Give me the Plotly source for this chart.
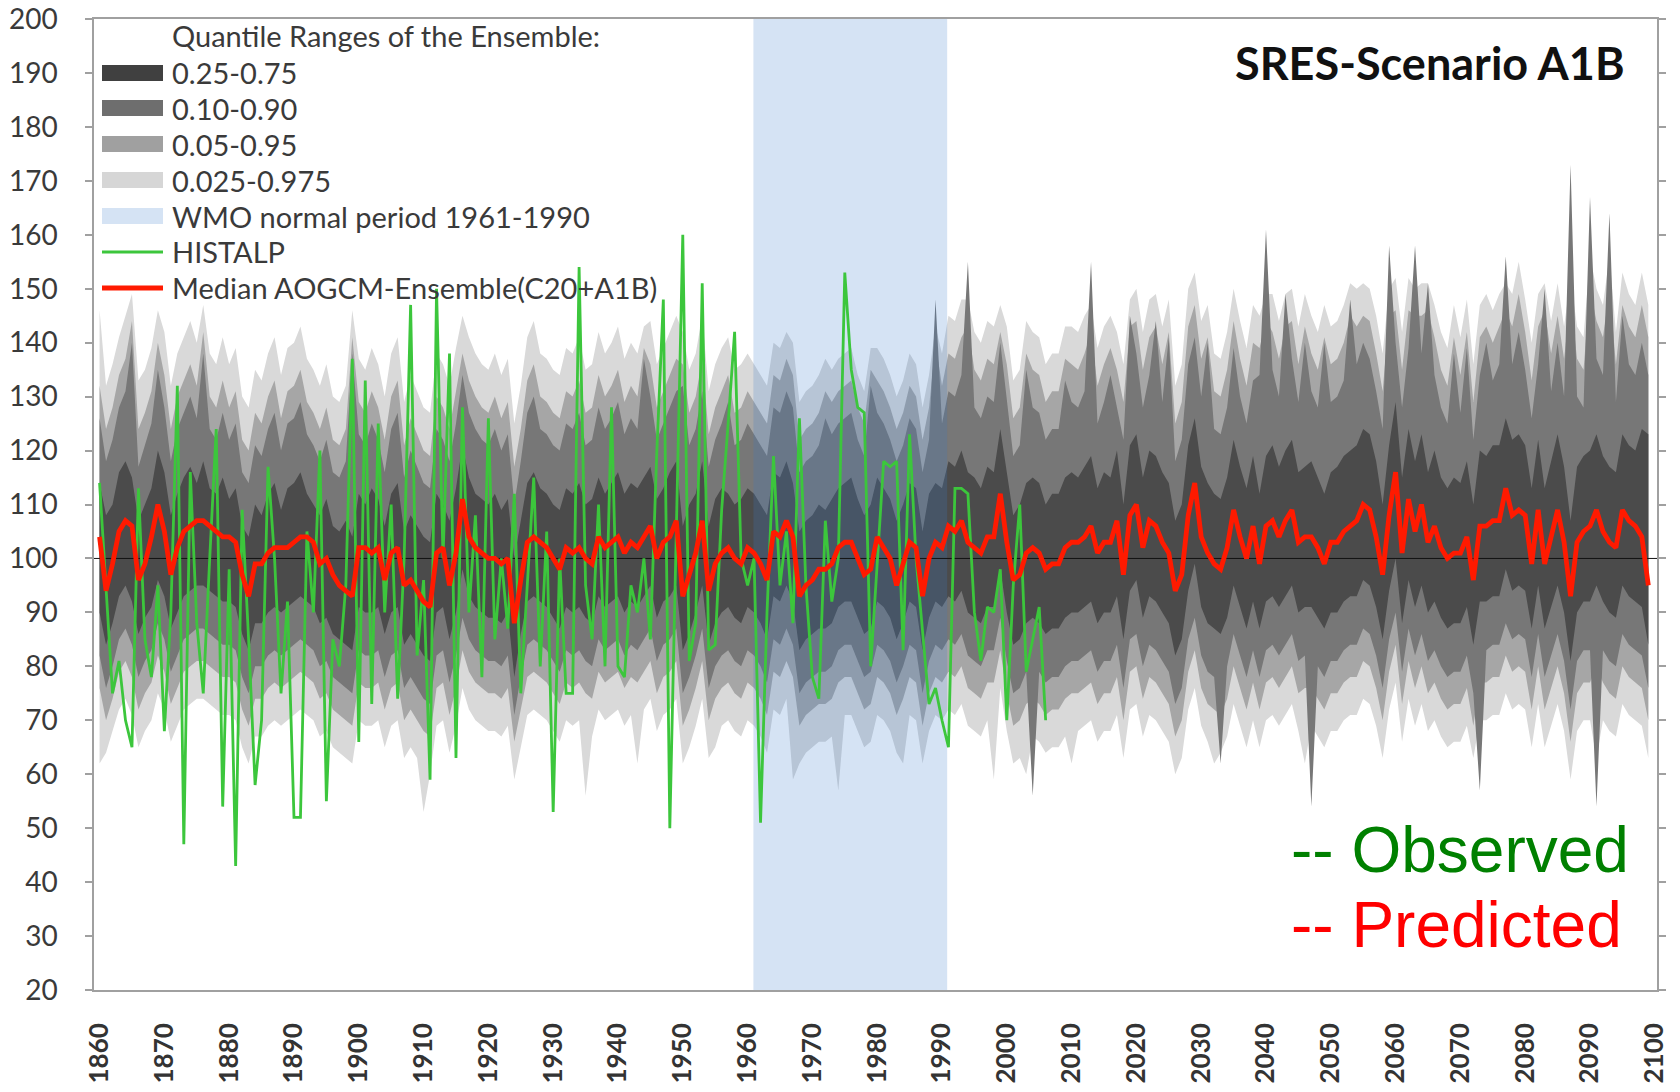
import plotly.graph_objects as go

# ---------------- data ----------------
YEARS = list(range(1860, 2100))          # model years 1860..2099
HIST_YEARS = list(range(1860, 2007))     # HISTALP 1860..2006

MEDIAN = [
    104, 94, 99, 105, 107, 106, 96, 99, 104, 110,
    105, 97, 102, 105, 106, 107, 107, 106, 105, 104,
    104, 103, 97, 93, 99, 99, 101, 102, 102, 102,
    103, 104, 104, 103, 99, 100, 97, 95, 94, 93,
    102, 102, 101, 102, 96, 101, 102, 95, 96, 94,
    92, 91, 101, 102, 95, 101, 111, 104, 102, 101,
    100, 100, 99, 100, 88, 96, 103, 104, 103, 102,
    100, 98, 102, 101, 102, 100, 99, 104, 102, 103,
    104, 101, 103, 102, 104, 106, 100, 103, 104, 107,
    93, 97, 101, 107, 94, 99, 101, 102, 100, 99,
    102, 101, 99, 96, 105, 104, 107, 104, 93, 95,
    96, 98, 98, 99, 102, 103, 103, 100, 97, 98,
    104, 102, 100, 95, 99, 103, 102, 93, 100, 103,
    102, 106, 105, 107, 103, 102, 101, 104, 104, 112,
    103, 96, 97, 101, 102, 101, 98, 99, 99, 102,
    103, 103, 104, 106, 101, 103, 103, 107, 97, 108,
    110, 102, 107, 106, 103, 101, 94, 97, 108, 114,
    104, 101, 99, 98, 102, 109, 104, 100, 106, 99,
    106, 107, 104, 107, 109, 103, 104, 104, 102, 99,
    103, 103, 105, 106, 107, 110, 109, 104, 97, 108,
    116, 101, 111, 105, 110, 103, 106, 102, 100, 101,
    101, 104, 96, 106, 106, 107, 107, 113, 108, 109,
    108, 99, 109, 99, 104, 109, 103, 93, 103, 105,
    106, 109, 105, 103, 102, 109, 107, 106, 104, 95,
]

Q750 = [
    114, 108, 110, 116, 118, 115, 107, 110, 113, 120,
    116, 108, 112, 115, 117, 114, 118, 113, 112, 115,
    111, 113, 106, 104, 110, 108, 112, 114, 109, 113,
    114, 116, 112, 110, 108, 111, 106, 105, 107, 104,
    112, 110, 113, 111, 106, 112, 114, 105, 108, 106,
    104, 103, 112, 110, 107, 113, 121, 115, 112, 111,
    110, 112, 109, 111, 100, 107, 114, 116, 113, 112,
    110, 109, 113, 112, 114, 110, 111, 115, 112, 114,
    116, 112, 114, 113, 115, 117, 111, 113, 116, 118,
    106, 110, 112, 118, 106, 111, 113, 112, 110, 111,
    113, 112, 110, 108, 116, 115, 118, 114, 105, 107,
    108, 110, 109, 111, 113, 114, 115, 111, 108, 110,
    115, 113, 111, 107, 110, 114, 113, 105, 112, 114,
    113, 118, 117, 120, 116, 115, 113, 117, 116, 124,
    116, 108, 110, 114, 115, 114, 110, 112, 112, 115,
    116, 115, 117, 119, 113, 116, 115, 120, 110, 121,
    123, 115, 120, 119, 116, 114, 107, 110, 121, 126,
    117, 114, 112, 111, 115, 122, 117, 113, 119, 112,
    119, 121, 117, 120, 122, 116, 117, 118, 115, 112,
    116, 117, 119, 120, 121, 124, 123, 118, 110, 121,
    129, 115, 124, 118, 123, 116, 120, 115, 113, 115,
    114, 118, 110, 120, 119, 121, 121, 126, 122, 123,
    121, 113, 122, 113, 118, 123, 117, 107, 117, 119,
    120, 123, 119, 117, 116, 123, 121, 120, 124, 123,
]

Q250 = [
    90, 84, 88, 93, 95, 92, 86, 89, 91, 96,
    93, 87, 90, 93, 94, 95, 95, 94, 93, 92,
    92, 91, 86, 83, 88, 88, 90, 91, 90, 91,
    92, 93, 92, 91, 88, 89, 86, 85, 84, 83,
    91, 90, 90, 91, 86, 90, 91, 84, 86, 84,
    82, 81, 90, 91, 85, 90, 98, 93, 91, 90,
    89, 89, 88, 90, 78, 86, 92, 93, 92, 91,
    89, 87, 91, 90, 91, 89, 88, 93, 91, 92,
    93, 90, 92, 91, 93, 95, 89, 92, 93, 95,
    83, 86, 90, 95, 84, 88, 90, 91, 89, 88,
    91, 90, 88, 85, 93, 92, 95, 92, 83, 85,
    86, 87, 87, 88, 91, 92, 92, 89, 86, 87,
    92, 91, 89, 85, 88, 92, 91, 83, 89, 92,
    91, 93, 92, 94, 90, 89, 88, 91, 91, 98,
    90, 84, 85, 88, 89, 88, 86, 87, 87, 89,
    90, 90, 91, 92, 88, 90, 90, 93, 85, 94,
    96, 89, 93, 92, 90, 88, 82, 85, 94, 99,
    91, 88, 87, 86, 89, 95, 91, 87, 92, 87,
    92, 93, 91, 93, 95, 90, 91, 91, 89, 87,
    90, 90, 92, 93, 93, 96, 95, 91, 85, 94,
    100, 88, 96, 91, 95, 90, 92, 89, 87, 88,
    88, 91, 84, 92, 92, 93, 93, 98, 94, 95,
    94, 87, 95, 87, 91, 95, 90, 81, 90, 92,
    92, 95, 92, 90, 89, 95, 93, 92, 91, 84,
]

Q900 = [
    126, 118, 122, 128, 131, 140, 117, 121, 125, 135,
    128, 118, 124, 127, 130, 126, 138, 124, 122, 127,
    122, 125, 116, 114, 121, 119, 124, 127, 120, 125,
    126, 129, 123, 121, 118, 122, 116, 115, 118, 138,
    123, 121, 125, 122, 116, 124, 127, 115, 120, 117,
    114, 113, 124, 122, 118, 125, 134, 127, 124, 122,
    121, 124, 120, 123, 110, 118, 127, 130, 124, 123,
    121, 120, 125, 124, 127, 121, 122, 128, 124, 126,
    129, 123, 126, 124, 137, 130, 122, 125, 128, 131,
    132, 121, 124, 131, 117, 122, 125, 129, 121, 122,
    125, 123, 121, 119, 128, 127, 131, 128, 116, 118,
    119, 121, 126, 123, 125, 126, 127, 122, 119, 132,
    127, 125, 122, 118, 121, 126, 124, 116, 122, 148,
    125, 131, 130, 134, 155, 128, 126, 130, 129, 140,
    129, 119, 121, 135, 128, 127, 122, 124, 124, 133,
    129, 128, 131, 155, 125, 129, 134, 128, 122, 145,
    138, 128, 134, 144, 129, 141, 118, 122, 136, 141,
    130, 140, 124, 123, 128, 139, 130, 125, 133, 134,
    161, 135, 130, 149, 137, 129, 140, 131, 128, 140,
    129, 130, 133, 148, 136, 140, 137, 131, 124, 158,
    140, 128, 139, 158, 138, 151, 134, 128, 125, 138,
    127, 139, 122, 134, 140, 133, 136, 156, 136, 142,
    135, 126, 136, 150, 131, 140, 130, 173, 130, 128,
    167, 137, 134, 164, 129, 145, 136, 134, 140, 134,
]

Q100 = [
    82, 76, 80, 85, 87, 84, 78, 81, 83, 88,
    85, 79, 82, 85, 86, 87, 87, 86, 85, 84,
    84, 83, 78, 75, 80, 80, 82, 83, 82, 83,
    84, 85, 84, 83, 80, 81, 78, 77, 76, 75,
    83, 82, 82, 83, 78, 82, 83, 76, 78, 76,
    74, 73, 82, 83, 77, 82, 89, 85, 83, 82,
    81, 81, 80, 82, 71, 78, 84, 85, 84, 83,
    81, 79, 83, 82, 83, 81, 80, 85, 83, 84,
    85, 82, 84, 83, 85, 87, 81, 84, 85, 87,
    75, 78, 82, 87, 76, 80, 82, 83, 81, 80,
    83, 82, 80, 77, 85, 84, 87, 84, 75, 77,
    78, 79, 79, 80, 83, 84, 84, 81, 78, 79,
    84, 83, 81, 77, 80, 84, 83, 75, 81, 84,
    83, 85, 84, 86, 82, 81, 80, 83, 83, 89,
    81, 75, 76, 79, 56, 79, 77, 78, 78, 80,
    81, 81, 82, 83, 79, 81, 81, 84, 76, 85,
    86, 80, 84, 83, 81, 79, 73, 76, 85, 89,
    82, 79, 78, 62, 80, 86, 82, 78, 83, 78,
    83, 84, 82, 84, 86, 81, 82, 54, 80, 78,
    81, 81, 83, 84, 84, 87, 86, 82, 76, 85,
    90, 79, 87, 82, 86, 81, 83, 80, 78, 79,
    79, 82, 75, 57, 83, 84, 84, 88, 85, 86,
    85, 78, 86, 78, 82, 86, 81, 72, 81, 83,
    83, 54, 83, 81, 80, 86, 84, 83, 82, 76,
]

Q950 = [
    132, 124, 128, 134, 137, 144, 124, 127, 131, 140,
    134, 124, 130, 133, 136, 132, 142, 130, 128, 133,
    128, 131, 122, 120, 127, 125, 130, 133, 126, 131,
    132, 135, 129, 127, 124, 128, 122, 121, 124, 141,
    129, 127, 131, 128, 122, 130, 133, 121, 126, 123,
    120, 119, 130, 128, 124, 131, 138, 133, 130, 128,
    127, 130, 126, 129, 117, 124, 133, 136, 130, 129,
    127, 126, 131, 130, 133, 127, 128, 134, 130, 132,
    135, 129, 132, 130, 139, 136, 128, 131, 134, 137,
    136, 127, 130, 137, 123, 128, 131, 134, 127, 128,
    131, 129, 127, 125, 134, 133, 137, 134, 122, 124,
    125, 127, 131, 129, 131, 132, 133, 128, 125, 135,
    133, 131, 128, 124, 127, 132, 130, 122, 128, 140,
    132, 138, 137, 141, 143, 135, 133, 137, 136, 142,
    136, 126, 128, 138, 135, 134, 129, 131, 131, 137,
    136, 135, 138, 142, 132, 136, 139, 135, 129, 143,
    144, 135, 141, 143, 136, 142, 125, 129, 143, 147,
    137, 141, 131, 130, 135, 144, 137, 132, 140, 139,
    144, 142, 137, 143, 144, 136, 143, 138, 135, 141,
    136, 137, 140, 145, 143, 145, 144, 138, 131, 145,
    146, 135, 146, 145, 145, 146, 141, 135, 132, 141,
    134, 142, 129, 141, 143, 140, 143, 146, 143, 149,
    142, 133, 143, 146, 138, 145, 137, 148, 137, 135,
    150, 144, 141, 150, 136, 147, 143, 141, 147, 141,
]

Q050 = [
    76, 70, 74, 79, 81, 78, 72, 75, 77, 82,
    79, 73, 76, 79, 80, 81, 81, 80, 79, 78,
    78, 77, 72, 69, 74, 74, 76, 77, 76, 77,
    78, 79, 78, 77, 74, 75, 72, 71, 70, 69,
    77, 76, 76, 77, 72, 76, 77, 70, 72, 70,
    68, 67, 76, 77, 71, 76, 83, 79, 77, 76,
    75, 75, 74, 76, 66, 72, 78, 79, 78, 77,
    75, 73, 77, 76, 77, 75, 74, 79, 77, 78,
    79, 76, 78, 77, 79, 81, 75, 78, 79, 81,
    69, 72, 76, 81, 70, 74, 76, 77, 75, 74,
    77, 76, 74, 71, 79, 78, 81, 78, 69, 71,
    72, 73, 73, 74, 77, 78, 78, 75, 72, 73,
    78, 77, 75, 71, 74, 78, 77, 69, 75, 78,
    77, 79, 78, 80, 76, 75, 74, 77, 77, 83,
    75, 69, 70, 73, 74, 73, 71, 72, 72, 74,
    75, 75, 76, 77, 73, 75, 75, 78, 70, 79,
    80, 74, 78, 77, 75, 73, 67, 70, 79, 83,
    76, 73, 72, 71, 74, 80, 76, 72, 77, 72,
    77, 78, 76, 78, 80, 75, 76, 76, 74, 72,
    75, 75, 77, 78, 78, 81, 80, 76, 70, 79,
    84, 73, 81, 76, 80, 75, 77, 74, 72, 73,
    73, 76, 69, 77, 77, 78, 78, 82, 79, 80,
    79, 72, 80, 72, 76, 80, 75, 66, 75, 77,
    77, 80, 77, 75, 74, 80, 78, 77, 76, 70,
]

Q975 = [
    146, 132, 136, 141, 145, 149, 133, 135, 139, 146,
    142, 132, 138, 141, 144, 140, 147, 138, 136, 141,
    136, 139, 130, 128, 135, 133, 138, 141, 134, 139,
    140, 143, 137, 135, 132, 136, 130, 129, 132, 146,
    137, 135, 139, 136, 130, 138, 141, 129, 134, 131,
    128, 127, 138, 136, 132, 139, 145, 141, 138, 136,
    135, 138, 134, 137, 125, 132, 141, 144, 138, 137,
    135, 134, 139, 138, 141, 135, 136, 142, 138, 140,
    143, 137, 140, 138, 143, 144, 136, 139, 142, 145,
    142, 135, 138, 145, 131, 136, 139, 141, 135, 136,
    138, 136, 134, 132, 140, 139, 142, 140, 129, 131,
    132, 134, 137, 135, 137, 138, 139, 134, 131, 139,
    139, 137, 134, 130, 133, 138, 136, 128, 134, 143,
    138, 145, 144, 148, 148, 142, 140, 144, 143, 147,
    143, 133, 135, 144, 142, 141, 136, 138, 138, 143,
    143, 142, 145, 147, 139, 143, 145, 142, 136, 148,
    150, 142, 148, 149, 143, 148, 132, 136, 150, 153,
    144, 147, 138, 137, 142, 150, 144, 139, 147, 145,
    149, 149, 144, 149, 150, 143, 149, 145, 142, 147,
    143, 144, 147, 151, 150, 151, 150, 145, 138, 150,
    152, 142, 152, 150, 151, 151, 147, 142, 139, 147,
    141, 148, 136, 147, 149, 146, 149, 151, 149, 155,
    148, 140, 149, 151, 144, 151, 143, 152, 143, 141,
    156, 150, 147, 156, 142, 153, 149, 147, 153, 147,
]

Q025 = [
    62, 64, 68, 72, 74, 71, 65, 68, 70, 75,
    72, 66, 69, 72, 73, 74, 74, 73, 72, 71,
    71, 70, 65, 62, 67, 67, 69, 70, 69, 70,
    71, 72, 71, 70, 67, 68, 65, 64, 63, 62,
    70, 69, 69, 70, 65, 69, 70, 63, 65, 63,
    53, 60, 69, 70, 64, 69, 76, 72, 70, 69,
    68, 68, 67, 69, 59, 65, 71, 72, 71, 70,
    68, 66, 70, 69, 70, 56, 67, 72, 70, 71,
    72, 69, 71, 62, 72, 74, 68, 71, 72, 74,
    62, 65, 69, 74, 63, 65, 69, 70, 68, 67,
    70, 69, 67, 64, 72, 71, 74, 59, 62, 64,
    65, 66, 66, 67, 57, 71, 71, 68, 65, 66,
    71, 70, 68, 64, 62, 71, 70, 62, 68, 71,
    70, 72, 71, 73, 69, 68, 67, 70, 59, 76,
    68, 62, 63, 60, 67, 66, 64, 65, 65, 67,
    62, 68, 69, 70, 66, 68, 68, 71, 63, 72,
    73, 67, 71, 70, 68, 66, 60, 63, 72, 76,
    69, 66, 62, 64, 67, 73, 69, 65, 70, 65,
    70, 71, 69, 71, 73, 68, 62, 69, 67, 65,
    68, 68, 70, 71, 71, 74, 73, 69, 63, 72,
    77, 66, 74, 69, 73, 68, 70, 67, 65, 66,
    66, 69, 63, 70, 70, 71, 71, 75, 72, 73,
    72, 65, 73, 65, 69, 73, 68, 59, 68, 70,
    70, 63, 70, 68, 67, 73, 71, 70, 69, 63,
]

HISTALP = [
    114, 95, 75, 81, 70, 65, 113, 85, 78, 95,
    68, 90, 132, 47, 116, 88, 75, 100, 124, 54,
    98, 43, 109, 85, 58, 70, 117, 100, 75, 92,
    52, 52, 105, 90, 120, 55, 85, 80, 95, 137,
    66, 133, 73, 125, 90, 110, 74, 100, 147, 82,
    96, 59, 150, 100, 138, 63, 128, 90, 108, 78,
    126, 85, 100, 87, 112, 75, 95, 115, 80, 105,
    53, 100, 75, 75, 154, 95, 85, 110, 80, 128,
    80, 78, 95, 90, 100, 85, 120, 148, 50, 104,
    160, 81, 88, 151, 83, 84, 109, 125, 142, 100,
    95, 100, 51, 90, 119, 95, 105, 88, 126, 95,
    78, 74, 107, 92, 100, 153, 135, 128, 127, 80,
    100, 118, 117, 118, 83, 123, 100, 86, 73, 76,
    70, 65, 113, 113, 112, 90, 81, 91, 90, 98,
    70, 95, 110, 79, 85, 91, 70,
]

for s in (MEDIAN, Q750, Q250, Q900, Q100, Q950, Q050, Q975, Q025):
    assert len(s) == len(YEARS), len(s)
assert len(HISTALP) == len(HIST_YEARS), len(HISTALP)

Y_TICKS = list(range(20, 201, 10))
X_TICKS = list(range(1860, 2101, 10))
X_TICK_LABELS = [str(v) for v in X_TICKS]
REF_LEVEL = 100
WMO_SHADE = (1960.9, 1990.8)   # WMO normal period 1961-1990

BANDS = [  # (label, lower, upper, colour)
    ("0.025-0.975", Q025, Q975, "#d9d9d9"),
    ("0.05-0.95", Q050, Q950, "#a6a6a6"),
    ("0.10-0.90", Q100, Q900, "#777777"),
    ("0.25-0.75", Q250, Q750, "#4b4b4b"),
]

# ---------------- layout geometry (pixels) ----------------
W, H = 1680, 1092
PL, PR, PT, PB = 94, 1657, 19, 990
X_RANGE = [1859.14, 2100.34]
Y_RANGE = [20, 200]


def px_x(px):
    return (px - PL) / (PR - PL)


def px_y(py):
    return (PB - py) / (PB - PT)


fig = go.Figure()

for label, lo, hi, col in BANDS:
    fig.add_trace(go.Scatter(x=YEARS, y=lo, mode="lines", line=dict(width=0),
                             hoverinfo="skip", showlegend=False))
    fig.add_trace(go.Scatter(x=YEARS, y=hi, mode="lines", line=dict(width=0),
                             fill="tonexty", fillcolor=col, name=label,
                             showlegend=False))

# WMO normal period shading (translucent, above bands, below lines)
fig.add_trace(go.Scatter(
    x=[WMO_SHADE[0], WMO_SHADE[1], WMO_SHADE[1], WMO_SHADE[0], WMO_SHADE[0]],
    y=[Y_RANGE[0], Y_RANGE[0], Y_RANGE[1], Y_RANGE[1], Y_RANGE[0]],
    mode="lines", line=dict(width=0), fill="toself",
    fillcolor="rgba(55,122,203,0.21)", hoverinfo="skip", showlegend=False))

# reference line at 100
fig.add_trace(go.Scatter(x=X_RANGE, y=[REF_LEVEL, REF_LEVEL], mode="lines",
                         line=dict(color="#111111", width=1),
                         hoverinfo="skip", showlegend=False))

fig.add_trace(go.Scatter(x=HIST_YEARS, y=HISTALP, mode="lines", name="HISTALP",
                         line=dict(color="#3cc63c", width=2.8), showlegend=False))
fig.add_trace(go.Scatter(x=YEARS, y=MEDIAN, mode="lines",
                         name="Median AOGCM-Ensemble(C20+A1B)",
                         line=dict(color="#ff1a00", width=4.8), showlegend=False))

# ---------------- manual legend ----------------
LEG_FONT = dict(family="Lato", size=29, color="#3a3a3a")
shapes = []
annotations = []
annotations.append(dict(x=px_x(170), y=px_y(36), xref="paper", yref="paper",
                        text="Quantile Ranges of the Ensemble:", showarrow=False,
                        xanchor="left", yanchor="middle", font=LEG_FONT))
legend_rows = [
    ("0.25-0.75", "#404040", "box"),
    ("0.10-0.90", "#6e6e6e", "box"),
    ("0.05-0.95", "#a0a0a0", "box"),
    ("0.025-0.975", "#d6d6d6", "box"),
    ("WMO normal period 1961-1990", "#d5e3f4", "box"),
    ("HISTALP", "#3cc63c", "line"),
    ("Median AOGCM-Ensemble(C20+A1B)", "#ff1a00", "line"),
]
row_y = [73, 108, 144, 180, 216, 252, 288]
for (txt, col, kind), yy in zip(legend_rows, row_y):
    if kind == "box":
        shapes.append(dict(type="rect", xref="paper", yref="paper",
                           x0=px_x(102), x1=px_x(163), y0=px_y(yy + 8), y1=px_y(yy - 8),
                           fillcolor=col, line=dict(width=0), layer="above"))
    else:
        shapes.append(dict(type="line", xref="paper", yref="paper",
                           x0=px_x(102), x1=px_x(163), y0=px_y(yy), y1=px_y(yy),
                           line=dict(color=col, width=3 if txt == "HISTALP" else 5),
                           layer="above"))
    annotations.append(dict(x=px_x(170), y=px_y(yy), xref="paper", yref="paper",
                            text=txt, showarrow=False, xanchor="left",
                            yanchor="middle", font=LEG_FONT))

annotations.append(dict(x=px_x(1627), y=px_y(63), xref="paper", yref="paper",
                        text="<b>SRES-Scenario A1B</b>", showarrow=False,
                        xanchor="right", yanchor="middle",
                        font=dict(family="Lato", size=45, color="#111111")))
annotations.append(dict(x=px_x(1289), y=px_y(850), xref="paper", yref="paper",
                        text="-- Observed", showarrow=False, xanchor="left",
                        yanchor="middle",
                        font=dict(family="Liberation Sans", size=64, color="#008000")))
annotations.append(dict(x=px_x(1289), y=px_y(925), xref="paper", yref="paper",
                        text="-- Predicted", showarrow=False, xanchor="left",
                        yanchor="middle",
                        font=dict(family="Liberation Sans", size=64, color="#ff0000")))

fig.update_layout(
    width=W, height=H, autosize=False,
    margin=dict(l=PL, r=W - PR, t=PT, b=H - PB, pad=0, autoexpand=False),
    paper_bgcolor="white", plot_bgcolor="white",
    showlegend=False,
    shapes=shapes, annotations=annotations,
    xaxis=dict(range=X_RANGE, tickmode="array", tickvals=X_TICKS,
               ticktext=X_TICK_LABELS, tickangle=-90, showgrid=False,
               zeroline=False, showline=True, linecolor="#a0a0a0", linewidth=1.5,
               mirror=True, ticks="", ticklabelstandoff=21, automargin=False,
               tickfont=dict(family="Lato", size=26, color="#333333", weight="bold")),
    yaxis=dict(range=Y_RANGE, tickmode="array", tickvals=Y_TICKS, showgrid=False,
               zeroline=False, showline=True, linecolor="#a0a0a0", linewidth=1.5,
               mirror="ticks", ticks="outside", ticklen=7, tickcolor="#a0a0a0",
               tickwidth=1.5, ticklabelstandoff=22, automargin=False,
               tickfont=dict(family="Lato", size=28, color="#3a3a3a")),
)

fig.write_html("out.html")
